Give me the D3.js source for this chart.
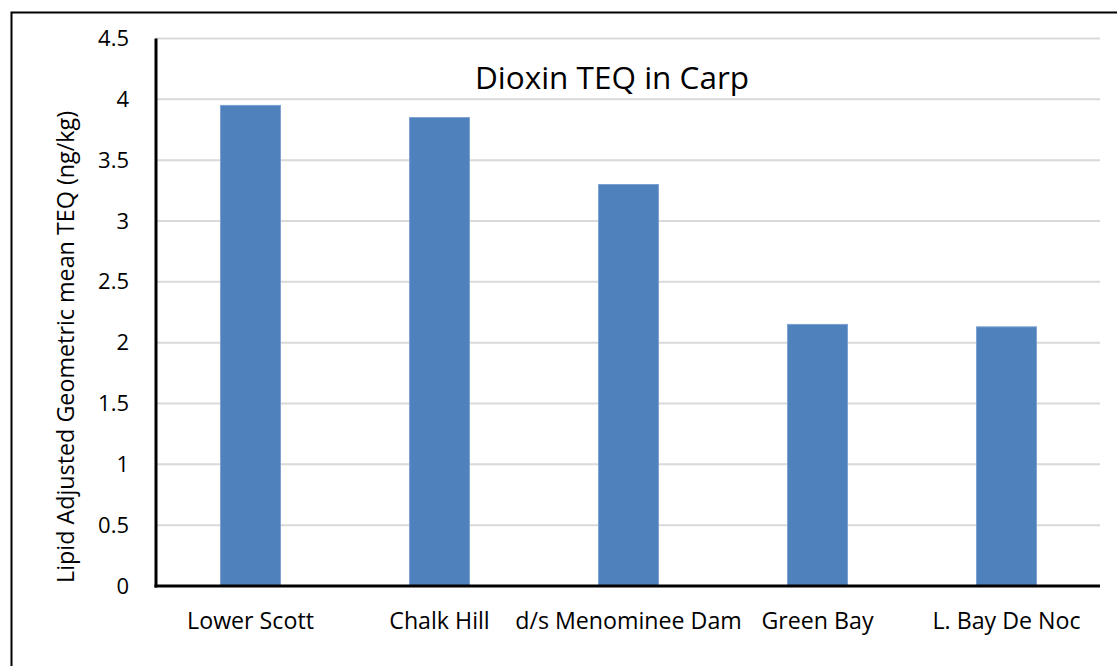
<!DOCTYPE html>
<html>
<head>
<meta charset="utf-8">
<script src="https://cdn.jsdelivr.net/npm/d3@7/dist/d3.min.js"></script>
<style>
  html, body { margin: 0; padding: 0; background: #fff; }
  svg { display: block; font-family: "Open Sans", sans-serif; }
</style>
</head>
<body>
<svg id="chart" width="1117" height="666"></svg>
<script>
// Sites sampled and their lipid-adjusted geometric mean TEQ (ng/kg)
const sites = ["Lower Scott", "Chalk Hill", "d/s Menominee Dam", "Green Bay", "L. Bay De Noc"];
const teq = [3.95, 3.85, 3.3, 2.15, 2.13];
const yTicks = [0, 0.5, 1, 1.5, 2, 2.5, 3, 3.5, 4, 4.5];
const tickLabels = ["0", "0.5", "1", "1.5", "2", "2.5", "3", "3.5", "4", "4.5"];

const svg = d3.select("#chart");
const plot = { left: 156, right: 1101, top: 38.5, bottom: 586 };

// outer frame (runs off the right and bottom edges)
svg.append("rect")
  .attr("x", 11.5).attr("y", 12.5)
  .attr("width", 1200).attr("height", 800)
  .attr("fill", "none").attr("stroke", "#000").attr("stroke-width", 2);

const x = d3.scaleBand()
  .domain(sites)
  .range([plot.left, plot.right])
  .paddingInner(0.683)
  .paddingOuter(0.3415);

const y = d3.scaleLinear()
  .domain([0, 4.5])
  .range([plot.bottom, plot.top]);

// horizontal gridlines
svg.append("g")
  .selectAll("line")
  .data(yTicks.filter(d => d > 0))
  .join("line")
  .attr("x1", plot.left).attr("x2", plot.right - 1)
  .attr("y1", d => y(d)).attr("y2", d => y(d))
  .attr("stroke", "#d9d9d9").attr("stroke-width", 2);

// bars
svg.append("g")
  .selectAll("rect")
  .data(sites.map((s, i) => ({ site: s, v: teq[i] })))
  .join("rect")
  .attr("x", d => x(d.site))
  .attr("width", x.bandwidth())
  .attr("y", d => y(d.v))
  .attr("height", d => y(0) - y(d.v))
  .attr("fill", "#4f81bd")
  .attr("stroke", "#7ba0d0").attr("stroke-width", 1);

// y axis
const yAxis = d3.axisLeft(y)
  .tickValues(yTicks)
  .tickFormat((d, i) => tickLabels[i])
  .tickSize(0)
  .tickPadding(27);
const gy = svg.append("g")
  .attr("transform", `translate(${plot.left},0)`)
  .call(yAxis);
gy.select(".domain").remove();
gy.selectAll("text")
  .attr("font-family", "Open Sans, sans-serif")
  .attr("font-size", 22)
  .attr("fill", "#000");

// x axis
const xAxis = d3.axisBottom(x).tickSize(0).tickPadding(26.5);
const gx = svg.append("g")
  .attr("transform", `translate(0,${plot.bottom})`)
  .call(xAxis);
gx.select(".domain").remove();
gx.selectAll("text")
  .attr("font-family", "Open Sans, sans-serif")
  .attr("font-size", 23.2)
  .attr("fill", "#000");

// axis lines
svg.append("line")
  .attr("x1", plot.left).attr("x2", plot.left)
  .attr("y1", plot.top).attr("y2", plot.bottom + 1.5)
  .attr("stroke", "#000").attr("stroke-width", 3);
svg.append("line")
  .attr("x1", plot.left - 1.5).attr("x2", plot.right - 1)
  .attr("y1", plot.bottom).attr("y2", plot.bottom)
  .attr("stroke", "#000").attr("stroke-width", 3);

// title
svg.append("text")
  .attr("x", 612).attr("y", 89)
  .attr("text-anchor", "middle")
  .attr("font-size", 31.5)
  .attr("fill", "#000")
  .text("Dioxin TEQ in Carp");

// y axis title
svg.append("text")
  .attr("transform", "translate(74,347) rotate(-90)")
  .attr("text-anchor", "middle")
  .attr("font-size", 23.3)
  .attr("fill", "#000")
  .text("Lipid Adjusted Geometric mean TEQ (ng/kg)");
</script>
</body>
</html>
